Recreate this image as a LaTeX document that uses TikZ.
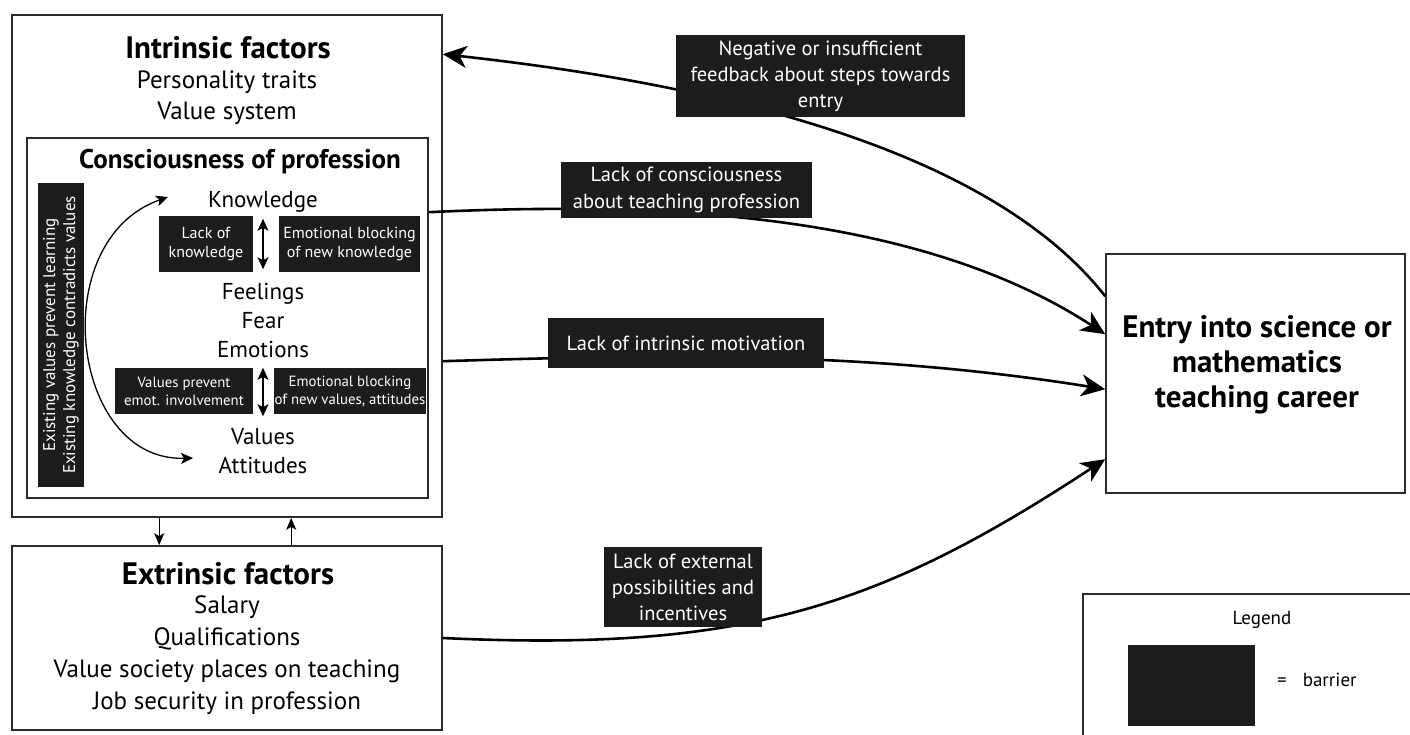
\documentclass[tikz,border=0pt]{standalone}
\usepackage{fontspec}
\setmainfont{PT Sans}
\usetikzlibrary{arrows.meta}

\definecolor{barfill}{HTML}{1C1C1C}
\definecolor{framecol}{HTML}{2A2A2A}
\newcommand{\fsz}[2]{\fontsize{#1}{#2}\selectfont}

\tikzset{
  frame/.style={draw=framecol, line width=1.6pt, inner sep=0pt},
  plain/.style={align=center, inner sep=0pt},
  barrier/.style={fill=barfill, text=white, align=center, inner sep=0pt},
  bigarrow/.style={line width=2.6pt, -{Stealth[length=24pt,width=22pt,inset=7pt]}},
  duo/.style={line width=1.5pt, {Stealth[length=12pt,width=11pt,inset=3pt]}-{Stealth[length=12pt,width=11pt,inset=3pt]}},
  link/.style={line width=1.4pt, -{Stealth[length=12pt,width=10pt,inset=3pt]}},
}

\begin{document}
\begin{tikzpicture}[x=1pt, y=-1pt]
    \useasboundingbox (0,0) rectangle (1410,734);
    \clip (0,0) rectangle (1410,734);

    % frames
    \node[frame, minimum width=430pt, minimum height=502pt] (intr) at (227,266) {};
    \node[frame, minimum width=401pt, minimum height=360pt] (consc) at (227.5,318) {};
    \node[frame, minimum width=430pt, minimum height=184pt] (extr) at (227,638) {};
    \node[frame, minimum width=299pt, minimum height=239pt] (entry) at (1255.5,373.5) {};
    \node[frame, minimum width=340pt, minimum height=160pt] (legend) at (1253,674) {};

    % intrinsic factors
    \node[plain, font=\fsz{31}{34}\bfseries] (intrtitle) at (228,48) {Intrinsic factors};
    \node[plain, font=\fsz{25}{31}] (intrlist) at (227,98) {Personality traits\\Value system};
    \node[plain, font=\fsz{27}{30}\bfseries] (consctitle) at (240,162) {Consciousness of profession};
    \node[plain, font=\fsz{23}{29}] (knowledge) at (263,202) {Knowledge};
    \node[plain, font=\fsz{23}{29}] (feelings) at (263,320) {Feelings\\Fear\\Emotions};
    \node[plain, font=\fsz{23}{29}] (values) at (263,451) {Values\\Attitudes};

    % extrinsic factors
    \node[plain, font=\fsz{31}{34}\bfseries] (extrtitle) at (228,574) {Extrinsic factors};
    \node[plain, font=\fsz{25}{32}] (extrlist) at (227,655) {Salary\\Qualifications\\Value society places on teaching\\Job security in profession};

    % goal
    \node[plain, font=\fsz{31}{35}\bfseries] (entrytext) at (1257,365) {Entry into science or\\mathematics\\teaching career};

    % inner barriers
    \node[barrier, font=\fsz{16}{19}, minimum width=94pt, minimum height=56pt] (kleft) at (206,244) {Lack of\\knowledge};
    \node[barrier, font=\fsz{16}{19}, minimum width=141pt, minimum height=56pt] (kright) at (349.5,244) {Emotional blocking\\of new knowledge};
    \node[barrier, font=\fsz{14.8}{18}, minimum width=138pt, minimum height=46pt] (vleft) at (184,391) {Values prevent\\emot. involvement};
    \node[barrier, font=\fsz{14.8}{18}, minimum width=152pt, minimum height=46pt] (vright) at (350,391) {Emotional blocking\\of new values, attitudes};
    \node[barrier, font=\fsz{17}{20}, rotate=90, minimum width=304pt, minimum height=46pt] (existing) at (61,335) {Existing values prevent learning\\Existing knowledge contradicts values};

    \draw[duo, shorten <=3pt, shorten >=3pt] (kleft.north -| knowledge) -- (kleft.south -| knowledge);
    \draw[duo, shorten <=0pt, shorten >=-2pt] (vleft.north -| values) -- (vleft.south -| values);

    \coordinate (looptop) at (168,197);
    \coordinate (loopbot) at (193,458);
    \draw[duo, line width=1.3pt] (looptop) .. controls +(-123,43) and +(-123,4) .. (loopbot);

    % between intrinsic and extrinsic
    \draw[link] ([xshift=148pt]intr.south west) -- ([xshift=148pt]extr.north west);
    \draw[link] ([xshift=280pt]extr.north west) -- ([xshift=280pt]intr.south west);

    % connectors to and from the goal
    \draw[bigarrow] ([yshift=-43pt]entry.north west) .. controls +(-110,-140) and +(300,33) .. ([yshift=-40pt]intr.north east);
    \draw[bigarrow] ([yshift=-75pt]consc.north east) .. controls +(250,-12) and +(-180,-117) .. ([yshift=-81pt]entry.north west);
    \draw[bigarrow] ([yshift=-347pt]intr.north east) .. controls +(200,-6) and +(-250,-40) .. ([yshift=-136pt]entry.north west);
    \draw[bigarrow] (extr.east) .. controls +(300,14) and +(-227,149) .. ([yshift=-206pt]entry.north west);

    % barriers on the connectors
    \node[barrier, font=\fsz{20.5}{26}, minimum width=289pt, minimum height=82pt] (feedback) at (820.5,76) {Negative or insufficient\\feedback about steps towards\\entry};
    \node[barrier, font=\fsz{20.5}{27}, minimum width=251pt, minimum height=56pt] (unaware) at (686.5,190) {Lack of consciousness\\about teaching profession};
    \node[barrier, font=\fsz{20.5}{26}, minimum width=276pt, minimum height=50pt] (unmotivated) at (686,343) {Lack of intrinsic motivation};
    \node[barrier, font=\fsz{20.5}{26}, minimum width=158pt, minimum height=80pt] (external) at (683,587) {Lack of external\\possibilities and\\incentives};

    % legend
    \node[plain, font=\fsz{19}{22}] (legendtitle) at (1262,620) {Legend};
    \node[barrier, minimum width=127pt, minimum height=81pt] (legendbox) at (1191.5,685.5) {};
    \node[plain, font=\fsz{19}{22}, anchor=west] (legendtext) at (1277,680) {=\hspace{16pt}barrier};
\end{tikzpicture}
\end{document}
